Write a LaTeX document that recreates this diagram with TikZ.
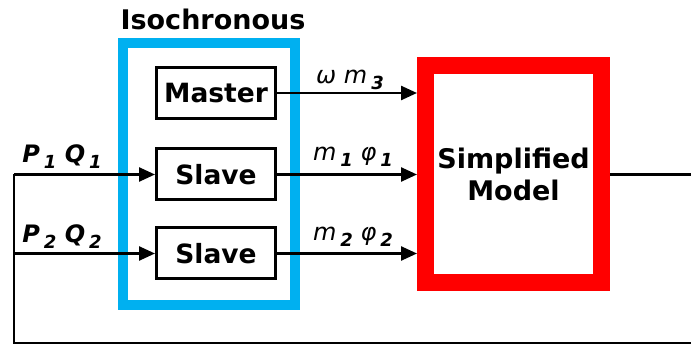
\documentclass[tikz,border=0pt]{standalone}
\usepackage{fontspec}
\setmainfont{DejaVu Sans}
\usetikzlibrary{arrows.meta}
\definecolor{isoblue}{RGB}{0,176,240}
\definecolor{simred}{RGB}{255,0,0}
\tikzset{
  blockbox/.style={draw=black, line width=3pt, minimum width=119pt, minimum height=51pt, font=\fontsize{26.5}{28}\selectfont\bfseries, inner sep=0pt},
  arr/.style={line width=2.5pt, -{Triangle[length=16pt,width=14pt]}},
  wire/.style={line width=2.5pt},
  lab/.style={font=\fontsize{24}{26}\selectfont\itshape, inner sep=0pt},
}
\newcommand{\sbx}[1]{\,\raisebox{-0.45ex}{\fontsize{18}{20}\selectfont\bfseries\itshape #1}}
\begin{document}
\begin{tikzpicture}[x=1pt,y=-1pt]
\useasboundingbox (0,0) rectangle (691,347);
\node[draw=isoblue, line width=10pt, minimum width=172pt, minimum height=262pt, inner sep=0pt] (iso) at (209,174) {};
\node[font=\fontsize{27}{29}\selectfont\bfseries, inner sep=0pt] (isolab) at (213,19) {Isochronous};
\node[draw=simred, line width=17pt, minimum width=176pt, minimum height=217pt, inner sep=0pt, align=center, font=\fontsize{27}{32}\selectfont\bfseries] (red) at (513.5,174.5) {Simplified\\Model};
\node[blockbox] (master) at (216,93) {Master};
\node[blockbox] (slave1) at (216,174.5) {Slave};
\node[blockbox] (slave2) at (216,253.5) {Slave};
\coordinate (p1) at (14,174.5);
\coordinate (p2) at (14,253.5);
\coordinate (bl) at (14,343);
\coordinate (br) at (691,343);
\coordinate (out) at (691,174.5);
\draw[wire] (red.east) -- (out);
\draw[wire] (br) -- (bl) -- (p1);
\draw[arr] (p1) -- (slave1.west);
\draw[arr] (p2) -- (slave2.west);
\draw[arr] (master.east) -- (master.east -| red.west);
\draw[arr] (slave1.east) -- (slave1.east -| red.west);
\draw[arr] (slave2.east) -- (slave2.east -| red.west);
\node[lab] (l1) at (62,157) {\bfseries P\sbx{1} Q\sbx{1}};
\node[lab] (l2) at (62,237) {\bfseries P\sbx{2} Q\sbx{2}};
\node[lab] (l3) at (350,80) {ω m\sbx{3}};
\node[lab] (l4) at (353,157) {m\sbx{1} φ\sbx{1}};
\node[lab] (l5) at (353,237) {m\sbx{2} φ\sbx{2}};
\end{tikzpicture}
\end{document}
